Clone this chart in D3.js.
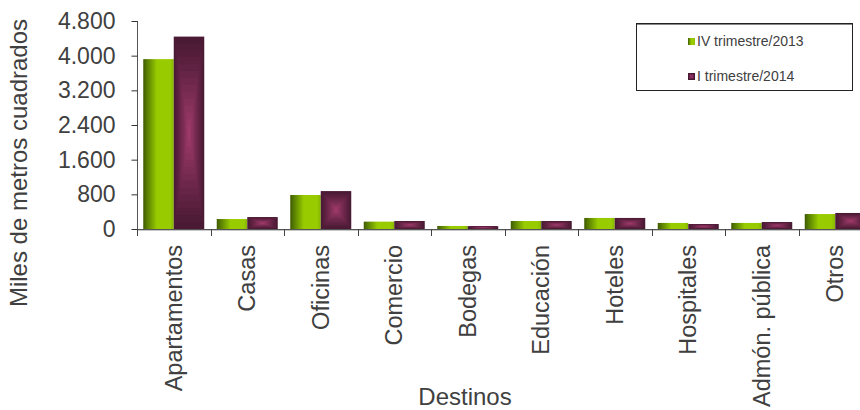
<!DOCTYPE html>
<html>
<head>
<meta charset="utf-8">
<script src="https://cdn.jsdelivr.net/npm/d3@7"></script>
<style>
  html, body { margin: 0; padding: 0; background: #fff; }
  svg { display: block; font-family: "Liberation Sans", Arial, sans-serif; }
</style>
</head>
<body>
<svg id="chart" width="860" height="410"></svg>
<script>
// ---- data ----
const categories = ["Apartamentos", "Casas", "Oficinas", "Comercio", "Bodegas", "Educación", "Hoteles", "Hospitales", "Admón. pública", "Otros"];
const seriesNames = ["IV trimestre/2013", "I trimestre/2014"];
const valuesIV2013 = [3920, 230, 785, 170, 70, 185, 255, 140, 140, 345];
const valuesI2014 = [4440, 275, 875, 185, 65, 185, 255, 115, 160, 370];
const yTicks = [0, 800, 1600, 2400, 3200, 4000, 4800];
const yTitle = "Miles de metros cuadrados";
const xTitle = "Destinos";

// ---- layout ----
const svg = d3.select("#chart");
const plotLeft = 137, plotTop = 21, plotBottom = 229;
const step = 73.5;

const locale = d3.formatLocale({ decimal: ",", thousands: ".", grouping: [3], currency: ["$", ""] });
const fmt = locale.format(",d");

const x = d3.scaleBand().domain(categories).range([plotLeft, plotLeft + step * categories.length]).padding(0);
const x1 = d3.scaleBand().domain(seriesNames).range([0, x.bandwidth()]).paddingInner(0).paddingOuter(0.205);
const y = d3.scaleLinear().domain([0, 4800]).range([plotBottom, plotTop]);

const defs = svg.append("defs");
const gGreen = defs.append("linearGradient").attr("id", "gGreen").attr("x1", "0%").attr("x2", "100%").attr("y1", "0%").attr("y2", "0%");
[["0%", "#3f5a00"], ["12%", "#577c00"], ["45%", "#99cc00"], ["88%", "#99cc00"], ["100%", "#86b400"]].forEach(s =>
  gGreen.append("stop").attr("offset", s[0]).attr("stop-color", s[1]));

const purpleRamp = d3.interpolateRgb("#4a1a34", "#9e3a6a");

// ---- bars ----
const data = categories.map((c, i) => ({ cat: c, vals: [valuesIV2013[i], valuesI2014[i]] }));
const groups = svg.append("g").selectAll("g").data(data).join("g")
  .attr("transform", d => `translate(${x(d.cat)},0)`);

groups.append("rect")
  .attr("x", x1(seriesNames[0]))
  .attr("width", x1.bandwidth())
  .attr("y", d => y(d.vals[0]))
  .attr("height", d => plotBottom - y(d.vals[0]))
  .attr("fill", "url(#gGreen)");

const N = 14;
groups.each(function(d) {
  const g = d3.select(this);
  const bx = x1(seriesNames[1]), bw = x1.bandwidth();
  const by = y(d.vals[1]), bh = plotBottom - by;
  for (let k = 0; k < N; k++) {
    const t = k / N;
    const tt = Math.pow(k / (N - 1), 1.15);
    g.append("rect")
      .attr("x", bx + t * bw / 2)
      .attr("y", by + t * bh / 2)
      .attr("width", bw * (1 - t))
      .attr("height", bh * (1 - t))
      .attr("fill", purpleRamp(tt));
  }
});

// ---- axes ----
const yAxis = d3.axisLeft(y).tickValues(yTicks).tickFormat(fmt).tickSize(6).tickSizeOuter(0).tickPadding(16);
const gy = svg.append("g").attr("transform", `translate(${plotLeft + 0.5},0)`).call(yAxis);
gy.select(".domain").attr("stroke", "#555").attr("d", `M0,${plotTop}V${plotBottom}`);
gy.selectAll(".tick line").attr("stroke", "#333");
gy.selectAll(".tick text").attr("font-size", 23).attr("fill", "#404040").attr("font-family", "Liberation Sans, Arial, sans-serif");

// x axis line
svg.append("line").attr("x1", plotLeft).attr("x2", 860).attr("y1", plotBottom + 0.5).attr("y2", plotBottom + 0.5).attr("stroke", "#555");
svg.append("line").attr("x1", plotLeft).attr("x2", 860).attr("y1", plotBottom + 1.5).attr("y2", plotBottom + 1.5).attr("stroke", "#c8c8c8");
// x ticks at category boundaries
const boundaries = categories.map(c => x(c)).concat([x(categories[categories.length - 1]) + x.bandwidth()]);
svg.append("g").selectAll("line").data(boundaries).join("line")
  .attr("x1", d => Math.round(d) + 0.5).attr("x2", d => Math.round(d) + 0.5)
  .attr("y1", plotBottom).attr("y2", plotBottom + 7)
  .attr("stroke", "#444");

// category labels
svg.append("g").selectAll("text").data(categories).join("text")
  .attr("transform", c => `translate(${x(c) + x.bandwidth() / 2},245) rotate(-90)`)
  .attr("text-anchor", "end")
  .attr("dy", "0.35em")
  .attr("font-size", 23.5)
  .attr("fill", "#404040")
  .text(c => c);

// axis titles
svg.append("text")
  .attr("transform", "translate(19,163) rotate(-90)")
  .attr("text-anchor", "middle")
  .attr("dy", "0.35em")
  .attr("font-size", 24)
  .attr("fill", "#404040")
  .text(yTitle);

svg.append("text")
  .attr("x", 465).attr("y", 405)
  .attr("text-anchor", "middle")
  .attr("font-size", 24)
  .attr("fill", "#404040")
  .text(xTitle);

// ---- legend ----
const lg = svg.append("g");
lg.append("rect").attr("x", 636.5).attr("y", 23.5).attr("width", 216).attr("height", 67)
  .attr("fill", "#fff").attr("stroke", "#222").attr("stroke-width", 1);
lg.append("line").attr("x1", 637).attr("x2", 852).attr("y1", 24.5).attr("y2", 24.5).attr("stroke", "#888");
const legendYs = [38, 73];
seriesNames.forEach((s, i) => {
  if (i === 0) {
    lg.append("rect").attr("x", 688).attr("y", legendYs[i]).attr("width", 7).attr("height", 7).attr("fill", "url(#gGreen)");
  } else {
    lg.append("rect").attr("x", 688).attr("y", legendYs[i]).attr("width", 7).attr("height", 7).attr("fill", "#4a1a34");
    lg.append("rect").attr("x", 689.5).attr("y", legendYs[i] + 1.5).attr("width", 4).attr("height", 4).attr("fill", "#8a3060");
  }
  lg.append("text").attr("x", 697).attr("y", legendYs[i] + 8).attr("font-size", 14).attr("fill", "#404040").text(s);
});
</script>
</body>
</html>
